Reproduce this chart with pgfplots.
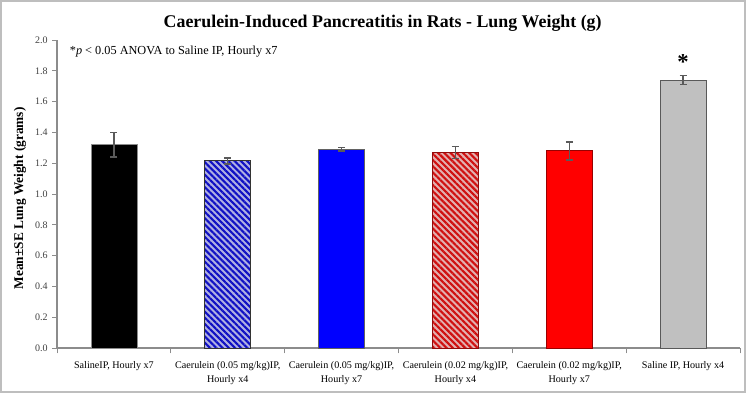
\documentclass[border=0pt]{standalone}
\usepackage{fontspec}
\setmainfont{Liberation Serif}
\usepackage{pgfplots}
\pgfplotsset{compat=1.18}
\usetikzlibrary{patterns.meta}
\definecolor{axgray}{RGB}{140,140,140}
\definecolor{errgray}{RGB}{90,90,90}
\definecolor{bluebg}{RGB}{176,176,226}
\definecolor{bluestripe}{RGB}{16,16,196}
\definecolor{redbg}{RGB}{226,176,176}
\definecolor{redstripe}{RGB}{208,16,16}
\definecolor{barray}{RGB}{192,192,192}
\definecolor{framegray}{RGB}{190,190,190}
\begin{document}
\begin{tikzpicture}
\begin{axis}[
  at={(42.75pt,33.75pt)}, anchor=south west,
  scale only axis, width=512.25pt, height=231pt,
  xmin=-0.5, xmax=5.5, ymin=0, ymax=2,
  axis lines*=left,
  axis line style={axgray, line width=0.8pt},
  ybar, bar width=34.5pt, bar shift=0pt,
  ytick={0,0.2,0.4,0.6,0.8,1.0,1.2,1.4,1.6,1.8,2.0},
  /pgf/number format/fixed, /pgf/number format/fixed zerofill, /pgf/number format/precision=1,
  /pgf/number format/assume math mode=true,
  yticklabel style={font=\fontsize{7.5}{9}\selectfont, text=black!75},
  ytick style={axgray, line width=0.6pt},
  major tick length=3.5pt,
  tick align=outside,
  xtick={0,1,2,3,4,5},
  xticklabels={{SalineIP, Hourly x7},{Caerulein (0.05 mg/kg)IP,\\Hourly x4},{Caerulein (0.05 mg/kg)IP,\\Hourly x7},{Caerulein (0.02 mg/kg)IP,\\Hourly x4},{Caerulein (0.02 mg/kg)IP,\\Hourly x7},{Saline IP, Hourly x4}},
  xticklabel style={font=\fontsize{7.6}{10.5}\selectfont, align=center, anchor=north, yshift=-3pt},
  major x tick style={draw=none},
  minor xtick={-0.5,0.5,1.5,2.5,3.5,4.5,5.5},
  minor x tick style={axgray, line width=0.6pt},
  minor tick length=4pt,
  clip=false,
  error bars/y dir=both, error bars/y explicit,
  error bars/error bar style={errgray, line width=1.1pt},
  error bars/error mark options={rotate=90, mark size=2.6pt, line width=1.1pt, errgray},
]
\addplot[fill=black, draw=axgray, line width=0.6pt] coordinates {(0,1.32) +- (0,0.08)};
\addplot[fill=bluebg, draw=black!80, line width=0.6pt,
  postaction={pattern={Lines[angle=-45,distance=3.3pt,line width=1.6pt]}, pattern color=bluestripe}]
  coordinates {(1,1.215) +- (0,0.02)};
\addplot[fill=blue, draw=axgray!70!black, line width=0.6pt] coordinates {(2,1.29) +- (0,0.012)};
\addplot[fill=redbg, draw=redstripe!70!black, line width=0.6pt,
  postaction={pattern={Lines[angle=-45,distance=3.3pt,line width=1.6pt]}, pattern color=redstripe}]
  coordinates {(3,1.27) +- (0,0.04)};
\addplot[fill=red, draw=red!60!black, line width=0.6pt] coordinates {(4,1.28) +- (0,0.058)};
\addplot[fill=barray, draw=black!65, line width=0.6pt] coordinates {(5,1.74) +- (0,0.03)};
\node[anchor=west, font=\fontsize{9.2}{11}\selectfont] at (rel axis cs:0.012,0.962) {*\textit{p} < 0.05 ANOVA to Saline IP, Hourly x7};
\node[font=\bfseries\fontsize{17}{17}\selectfont, anchor=center] at (axis cs:5,1.86) {*};
\end{axis}
\node[font=\bfseries\fontsize{13.4}{16}\selectfont] at (287pt,277.5pt) {Caerulein-Induced Pancreatitis in Rats - Lung Weight (g)};
\node[font=\bfseries\fontsize{10}{12}\selectfont, rotate=90] at (15pt,146pt) {Mean\textpm SE Lung Weight (grams)};
\draw[framegray, line width=1.2pt] (0.6pt,0.6pt) rectangle (558.9pt,294.15pt);
\end{tikzpicture}
\end{document}
